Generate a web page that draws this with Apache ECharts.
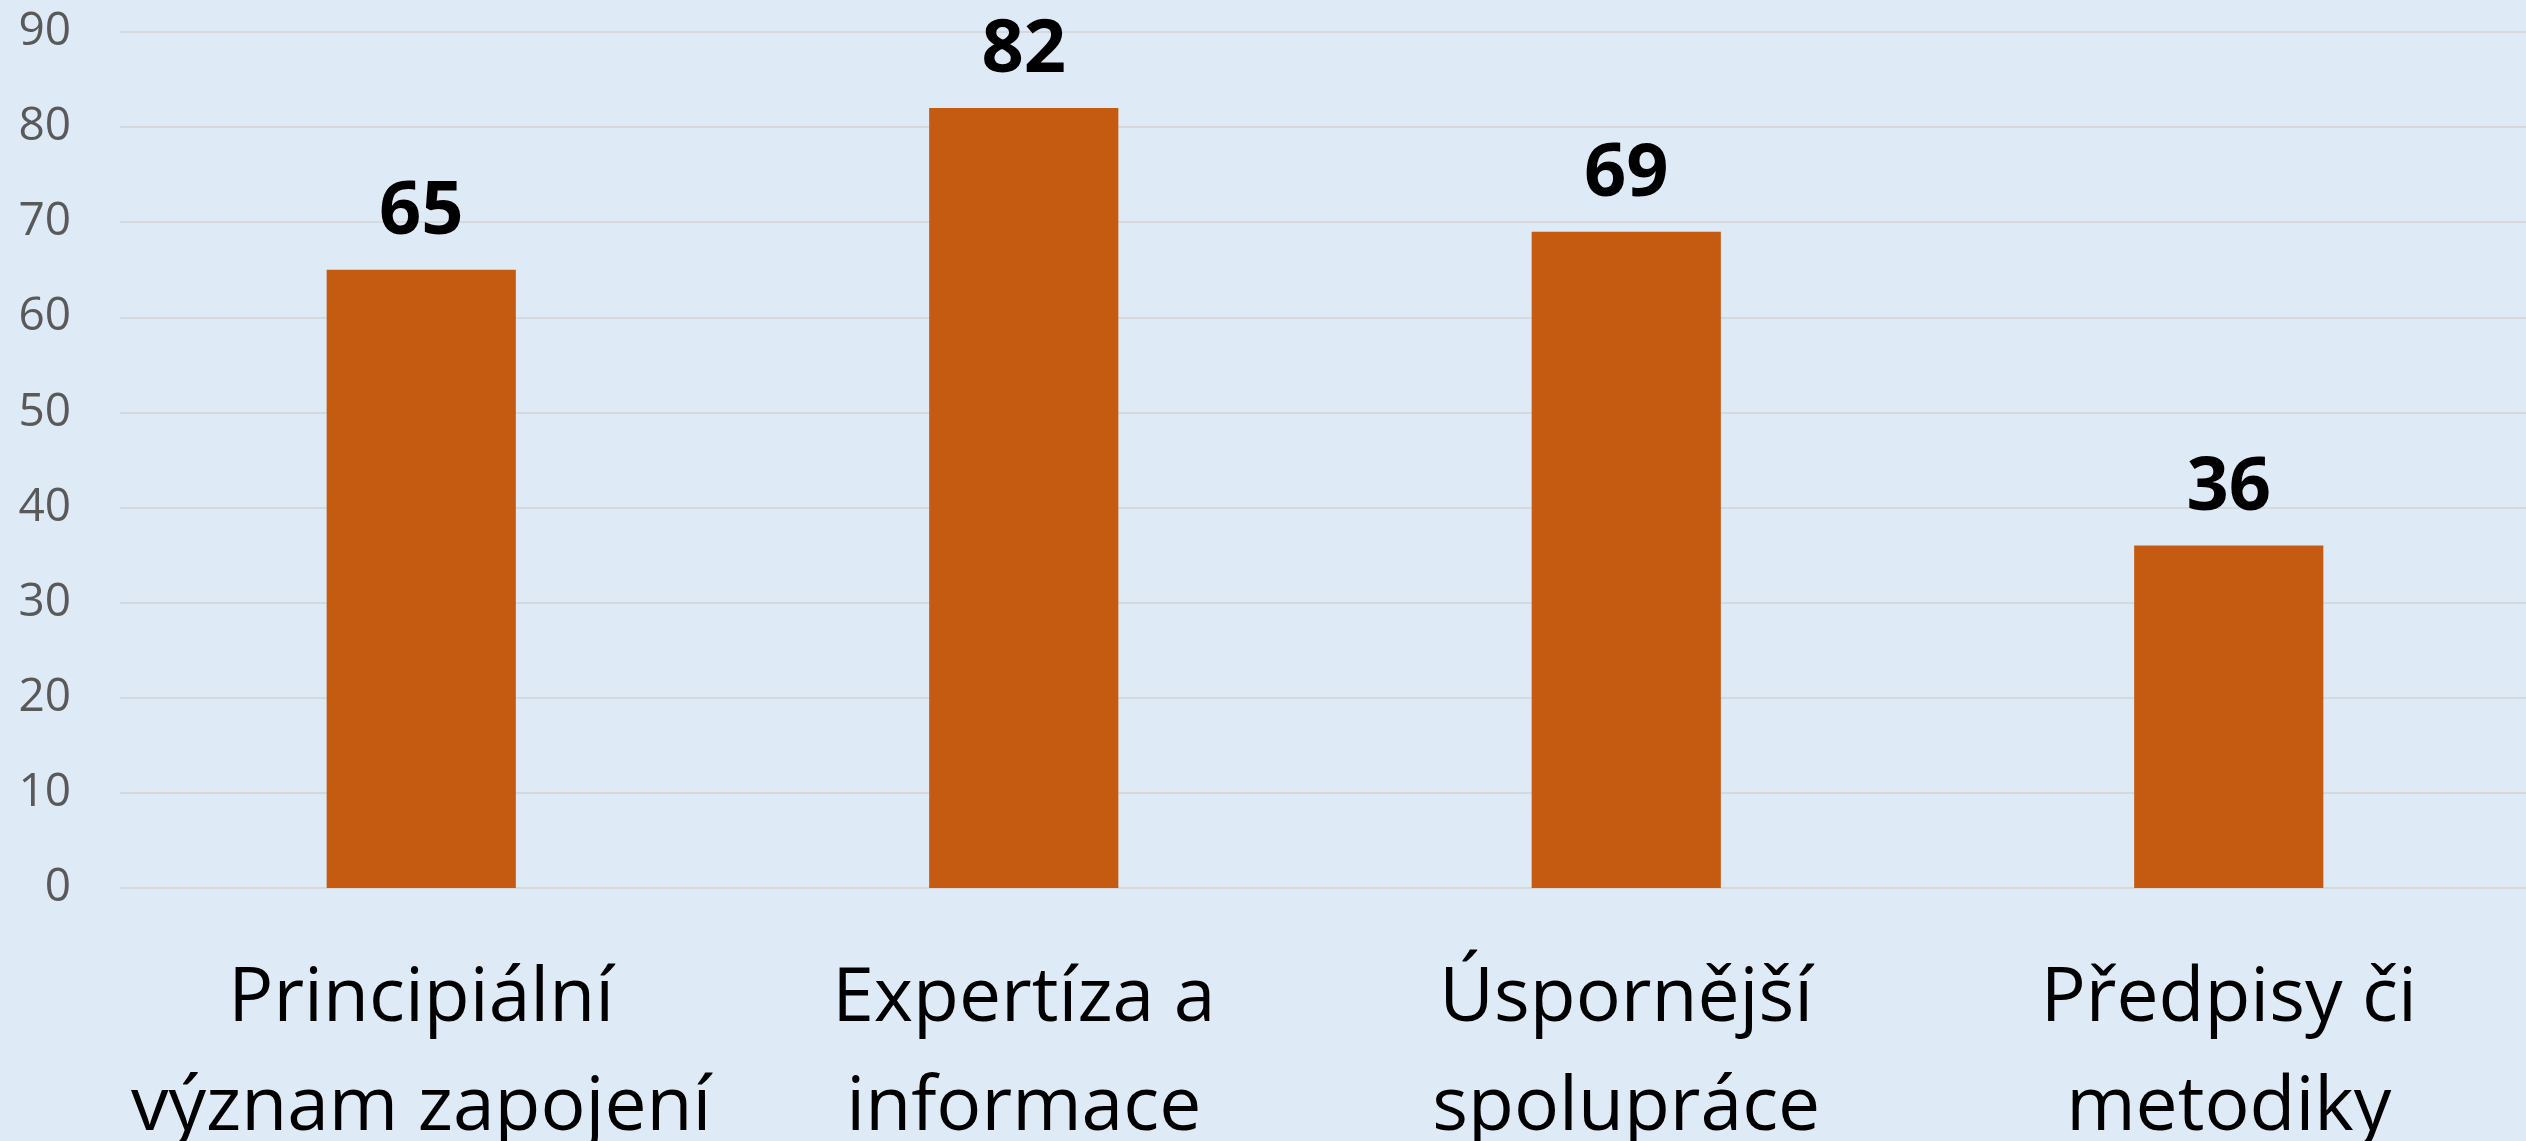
<!DOCTYPE html>
<html>
<head>
<meta charset="utf-8">
<script src="https://cdn.jsdelivr.net/npm/echarts@6/dist/echarts.min.js"></script>
<style>
html,body{margin:0;padding:0;background:#DEEAF6;overflow:hidden;}
#chart{width:2526px;height:1141px;}
</style>
</head>
<body>
<div id="chart"></div>
<script>
const categories = ['Principiální\nvýznam zapojení', 'Expertíza a\ninformace', 'Úspornější\nspolupráce', 'Předpisy či\nmetodiky'];
const values = [65, 82, 69, 36];
const yTicks = [0, 10, 20, 30, 40, 50, 60, 70, 80, 90];

const chart = echarts.init(document.getElementById('chart'));
chart.setOption({
  backgroundColor: '#DEEAF6',
  animation: false,
  grid: { left: 120, right: -4, top: 32, bottom: 253, containLabel: false, outerBoundsMode: 'none' },
  xAxis: {
    type: 'category',
    data: categories,
    axisLine: { show: false },
    axisTick: { show: false },
    axisLabel: {
      interval: 0,
      margin: 57,
      fontFamily: 'Open Sans',
      fontSize: 75,
      lineHeight: 109,
      color: '#000000'
    }
  },
  yAxis: {
    type: 'value',
    min: yTicks[0],
    max: yTicks[yTicks.length - 1],
    interval: 10,
    axisLine: { show: false },
    axisTick: { show: false },
    splitLine: { lineStyle: { color: '#D5D9DD', width: 2 } },
    axisLabel: {
      margin: 49,
      fontFamily: 'Open Sans',
      fontSize: 46,
      color: '#595959'
    }
  },
  series: [{
    type: 'bar',
    data: values,
    barWidth: '31.4%',
    itemStyle: { color: '#C55A11' },
    label: {
      show: true,
      position: 'top',
      distance: 20,
      fontFamily: 'Open Sans',
      fontWeight: 'bold',
      fontSize: 74,
      lineHeight: 74,
      color: '#000000'
    }
  }]
});
</script>
</body>
</html>
